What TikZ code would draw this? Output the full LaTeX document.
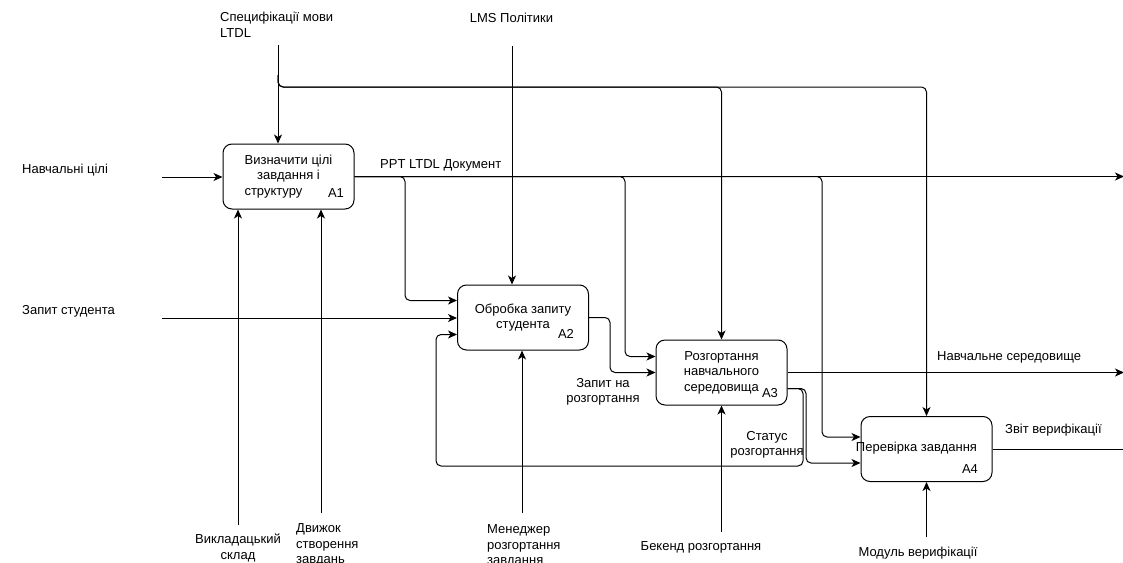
\documentclass[tikz,border=0pt]{standalone}
\usepackage{fontspec}
\setmainfont{Liberation Sans}
\usetikzlibrary{arrows.meta,calc}
\begin{document}
\begin{tikzpicture}[x=1pt,y=-1pt,
  font=\fontsize{13}{15.5}\selectfont,
  proc/.style={draw,line width=1pt,rounded corners=9pt,minimum width=131pt,minimum height=65pt,inner sep=0pt,align=center},
  flow/.style={line width=1pt,-{Stealth[length=9pt,width=8pt,inset=2.5pt]},rounded corners=5pt},
  plain/.style={line width=1pt,rounded corners=5pt},
  txt/.style={inner sep=0pt},
  ]
\useasboundingbox (0,0) rectangle (1123,562);
\fill[white] (0,0) rectangle (1123,562);

% boxes
\node[proc] (A1) at (288.5,176.5) {Визначити цілі\\завдання і\\\makebox[88pt][l]{структуру}};
\node[proc] (A2) at (523,317.5) {Обробка запиту\\студента};
\node[proc] (A3) at (721.5,372.5) {Розгортання\\навчального\\середовища};
\node[proc] (A4) at (926.5,449) {};
\node[txt] (tA4) at (916.5,448) {Перевірка завдання};
\node[txt] (nA1) at (336,193) {A1};
\node[txt] (nA2) at (566,334) {A2};
\node[txt] (nA3) at (770,393) {A3};
\node[txt] (nA4) at (970,469) {A4};

% labels
\node[txt,anchor=west,align=left] (lSpec) at (220,25) {Специфікації мови\\LTDL};
\node[txt] (lLms) at (511.5,18) {LMS Політики};
\node[txt,anchor=west] (lDoc) at (380,165) {PPT LTDL Документ};
\node[txt,anchor=west] (lNav) at (22,170) {Навчальні цілі};
\node[txt,anchor=west] (lReq) at (22,311) {Запит студента};
\node[txt,align=center] (lDepl) at (603,392) {Запит на\\розгортання};
\node[txt,align=center] (lStat) at (767,445) {Статус\\розгортання};
\node[txt,anchor=west] (lEnv) at (937,357) {Навчальне середовище};
\node[txt,anchor=west] (lRep) at (1005,430) {Звіт верифікації};
\node[txt,align=center] (lM1) at (238,548) {Викладацький\\склад};
\node[txt,align=left,anchor=west] (lM2) at (296,545) {Движок\\створення\\завдань};
\node[txt,align=left,anchor=west] (lM3) at (487,546) {Менеджер\\розгортання\\завдання};
\node[txt] (lM4) at (701,547) {Бекенд розгортання};
\node[txt] (lM5) at (918,553) {Модуль верифікації};

% helper coordinates
\coordinate (inNav) at (162,177);
\coordinate (inReq) at (162,318);
\coordinate (spec) at (278,45);
\coordinate (specB) at (278,75);
\coordinate (ctrlY) at (0,87);
\coordinate (lms) at (512,46);
\coordinate (outR) at (1124,0);
\coordinate (outR2) at (1123,0);
\coordinate (x405) at (405,0);
\coordinate (x625) at (625,0);
\coordinate (x822) at (822,0);
\coordinate (x610) at (610,0);
\coordinate (x806) at (806,0);
\coordinate (x803) at (803,0);
\coordinate (x436) at (436,0);
\coordinate (fbY) at (0,466);
\coordinate (A2i1) at ([yshift=17pt]A2.west);
\coordinate (A2i3) at ([yshift=-17pt]A2.west);
\coordinate (A3i1) at ([yshift=16pt]A3.west);
\coordinate (A3o2) at ([yshift=-16pt]A3.east);
\coordinate (A4i1) at ([yshift=12pt]A4.west);
\coordinate (A4i2) at ([yshift=-14pt]A4.west);
\coordinate (m1) at (238,525);
\coordinate (m2) at (321,513);
\coordinate (m3) at (522,513);
\coordinate (m4) at (721.5,532);
\coordinate (m5) at (926.5,537);
\coordinate (A1top) at ([xshift=-10.5pt]A1.north);
\coordinate (A2top) at ([xshift=-11pt]A2.north);

% inputs
\draw[flow] (inNav) -- (inNav -| A1.west);
\draw[flow] (inReq) -- (inReq -| A2.west);

% controls
\draw[flow] (spec) -- (A1top);
\draw[flow] (specB) |- (ctrlY -| A3.north) -- (A3.north);
\draw[flow] (specB) |- (ctrlY -| A4.north) -- (A4.north);
\draw[flow] (lms) -- (A2top);

% A1 output and branches
\draw[flow] (A1.east) -- (A1.east -| outR);
\draw[flow] (A1.east) -| (x405 |- A2i1) -- (A2i1);
\draw[flow] (A1.east) -| (x625 |- A3i1) -- (A3i1);
\draw[flow] (A1.east) -| (x822 |- A4i1) -- (A4i1);

% A2 -> A3
\draw[flow] (A2.east) -| (x610 |- A3.west) -- (A3.west);

% A3 outputs
\draw[flow] (A3.east) -- (A3.east -| outR);
\draw[flow] (A3o2) -| (x806 |- A4i2) -- (A4i2);
\draw[flow] (A3o2) -| (x803 |- fbY) -| (x436 |- A2i3) -- (A2i3);

% A4 output
\draw[plain] (A4.east) -- (A4.east -| outR2);

% mechanisms
\draw[flow] (m1) -- (m1 |- A1.south);
\draw[flow] (m2) -- (m2 |- A1.south);
\draw[flow] (m3) -- (m3 |- A2.south);
\draw[flow] (m4) -- (A3.south);
\draw[flow] (m5) -- (A4.south);
\end{tikzpicture}
\end{document}
